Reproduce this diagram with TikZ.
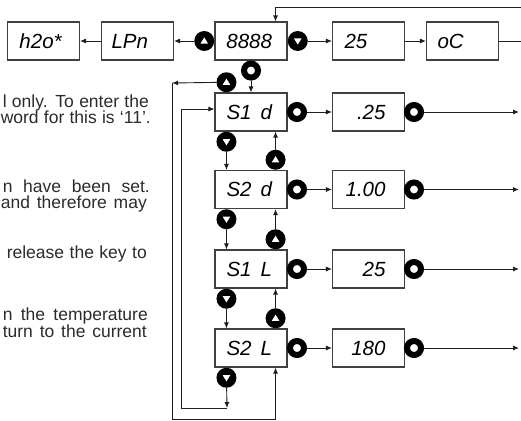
\documentclass[tikz,border=0pt]{standalone}
\usepackage{fontspec}
\newfontfamily\segfont{Liberation Sans}
\newfontfamily\bodyfont{Liberation Sans}
\usetikzlibrary{arrows.meta, positioning, calc}
\definecolor{boxline}{HTML}{404040}
\definecolor{wireline}{HTML}{1E1E1E}
\definecolor{bodytext}{HTML}{2B2B2B}
% display text: left or right padded inside a 72pt box
\newcommand{\segL}[2]{\hspace*{#1}\makebox[\dimexpr72pt-#1\relax][l]{#2}}
\newcommand{\segR}[2]{\makebox[\dimexpr72pt-#1\relax][r]{#2}\hspace*{#1}}

\begin{document}
\begin{tikzpicture}[x=1pt, y=-1pt,
  every node/.style={font=\segfont\itshape\fontsize{20.5pt}{24pt}\selectfont},
  disp/.style={draw=boxline, line width=1.1pt, minimum width=72pt, minimum height=38pt, inner sep=0pt},
  arr/.style={draw=wireline, line width=0.9pt, -{Latex[length=6pt, width=5pt]}},
  wire/.style={draw=wireline, line width=0.9pt},
  upbtn/.style={circle, fill=black, minimum size=20pt, inner sep=0pt,
    path picture={\fill[white] ([shift={(-3.8pt,-2.6pt)}]path picture bounding box.center)
      -- ([shift={(3.8pt,-2.6pt)}]path picture bounding box.center)
      -- ([shift={(0pt,3.6pt)}]path picture bounding box.center) -- cycle;}},
  dnbtn/.style={circle, fill=black, minimum size=20pt, inner sep=0pt,
    path picture={\fill[white] ([shift={(-3.8pt,2.6pt)}]path picture bounding box.center)
      -- ([shift={(3.8pt,2.6pt)}]path picture bounding box.center)
      -- ([shift={(0pt,-3.6pt)}]path picture bounding box.center) -- cycle;}},
  okbtn/.style={circle, draw=black, line width=6pt, fill=white, minimum size=14pt, inner sep=0pt},
  bodytxt/.style={font=\bodyfont\fontsize{17.5pt}{20pt}\selectfont, text=bodytext, inner sep=0pt,
    text height=10pt, text depth=2pt, anchor=base east}
]
  \useasboundingbox (0,0) rectangle (521,420);

  % Cut-off manual text
  \node[bodytxt] (p1) at (149,107) {\makebox[146pt][s]{l only. To enter the}};
  \node[bodytxt] (p2) at (151,123) {\makebox[150pt][s]{word for this is ‘11’.}};
  \node[bodytxt] (p3) at (150,192) {\makebox[147pt][s]{n have been set.}};
  \node[bodytxt] (p4) at (147,208) {\makebox[146pt][s]{and therefore may}};
  \node[bodytxt] (p5) at (147,258) {\makebox[140pt][s]{release the key to}};
  \node[bodytxt] (p6) at (148,320) {\makebox[145pt][s]{n the temperature}};
  \node[bodytxt] (p7) at (147,337) {\makebox[144pt][s]{turn to the current}};

  % Top row
  \node[disp] (h2o) at (43.5,41) {\segL{12pt}{h2o*}};
  \node[disp] (lpn) at (137.5,41) {\segL{10pt}{LPn}};
  \node[disp] (pw) at (251,41) {\segR{15pt}{8888}};
  \node[disp] (t25) at (368.5,41) {\segL{12pt}{25}};
  \node[disp] (unit) at (462.5,41) {\segL{11pt}{oC}};
  \node[upbtn, anchor=east] (pwup) at (pw.west) {};
  \node[dnbtn, anchor=west] (pwdn) at (pw.east) {};
  \node[okbtn, anchor=north] (pwok) at (pw.south) {};

  \draw[arr] (lpn) -- (h2o);
  \draw[arr] (pwup) -- (lpn);
  \draw[arr] (pwdn) -- (t25);
  \draw[arr] (t25) -- (unit);
  \coordinate (ret) at (521,7);
  \draw[wire] (unit.east) -- (unit.east -| ret);
  \draw[arr] (ret) -| ($(pw.north east)+(-12,0)$);

  % Setpoint rows
  \foreach \i/\lbl/\val/\yy in {1/{S1\hspace{9pt}d}/.25/112, 2/{S2\hspace{9pt}d}/1.00/189.5,
                                3/{S1\hspace{9pt}L}/25/269, 4/{S2\hspace{9pt}L}/180/348} {
    \node[disp] (s\i) at (251,\yy) {\segR{15pt}{\lbl}};
    \node[okbtn] (oka\i) at (297,\yy) {};
    \node[disp] (v\i) at (368.5,\yy) {\segR{19pt}{\val}};
    \node[okbtn] (okb\i) at (414,\yy) {};
    \coordinate (out\i) at (519,\yy);
    \draw[arr] (oka\i) -- (v\i);
    \draw[arr] (okb\i) -- (out\i);
  }
  \draw[arr] (pwok) -- (pwok |- s1.north);

  % Up / down between rows
  \foreach \i/\j in {1/2, 2/3, 3/4} {
    \node[dnbtn, anchor=north] (dn\i) at ($(s\i.south west)+(12,0)$) {};
    \node[upbtn, anchor=south] (up\j) at ($(s\j.north east)+(-12,0)$) {};
    \draw[arr] (dn\i) -- (dn\i |- s\j.north);
    \draw[arr] (up\j) -- (up\j |- s\i.south);
  }

  % Wrap-around loops
  \node[upbtn, anchor=south] (up1) at ($(s1.north west)+(12,0)$) {};
  \node[dnbtn, anchor=north] (dn4) at ($(s4.south west)+(12,0)$) {};
  \coordinate (outerTL) at (172,83);
  \coordinate (outerBL) at (172,419);
  \coordinate (innerBR) at (227,408);
  \draw[arr] (up1) -- (outerTL);
  \draw[arr] (outerTL) -- (outerBL) -| ($(s4.south east)+(-12,0)$);
  \draw[arr] (dn4) -- (innerBR);
  \draw[arr] (innerBR) -- (181,408) |- ($(s1.west)+(0,-3)$);
\end{tikzpicture}
\end{document}
